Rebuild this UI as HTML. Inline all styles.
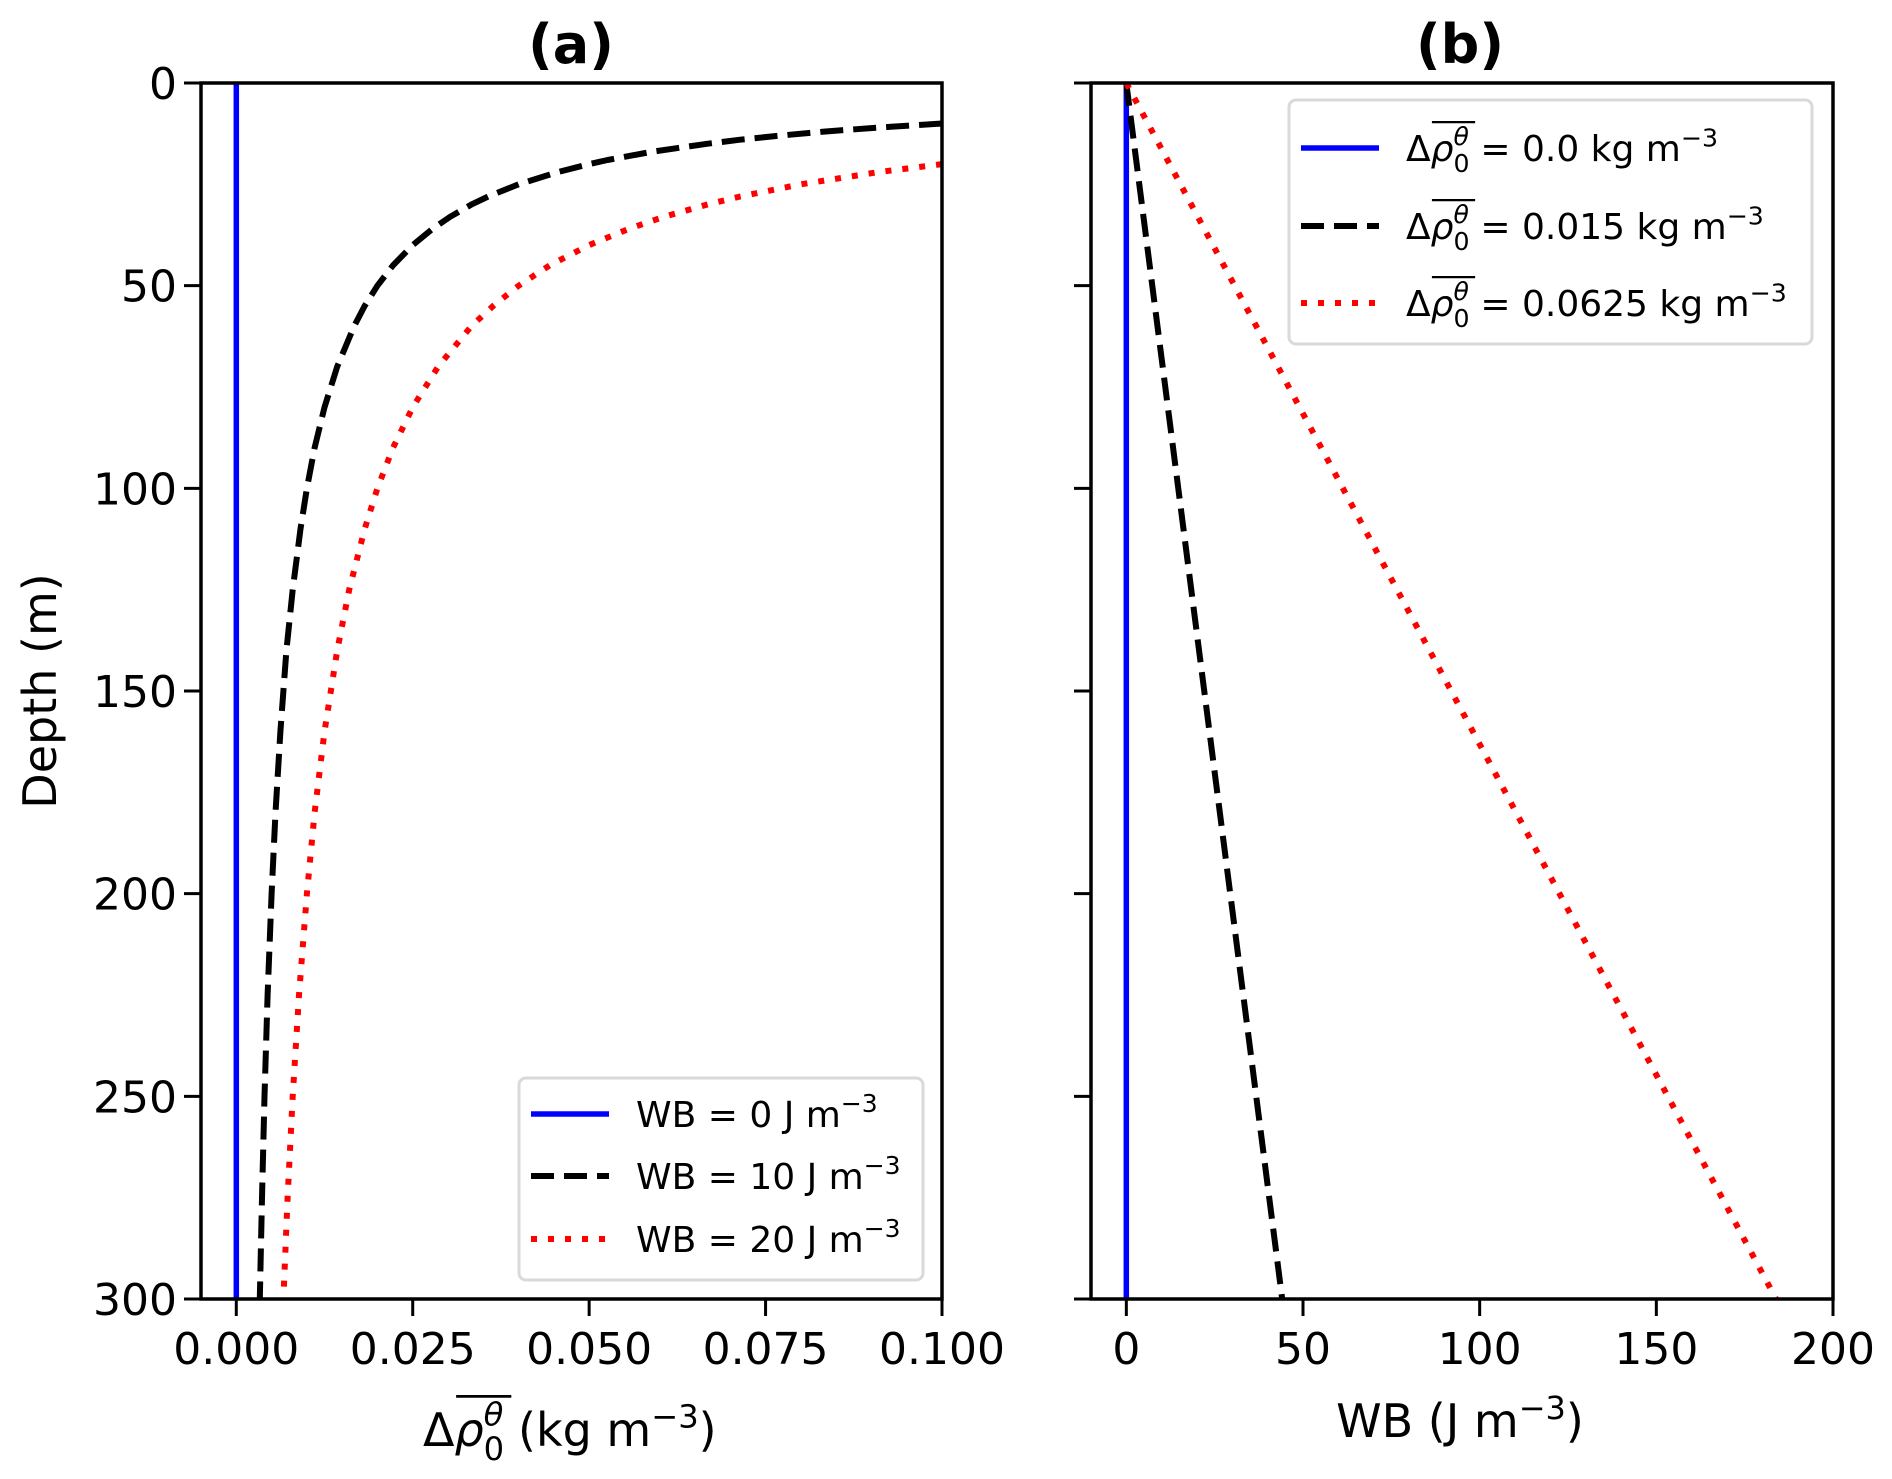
<!DOCTYPE html>
<html><head><meta charset="utf-8"><style>
html,body{margin:0;padding:0;background:#fff}
svg{display:block}
text{font-family:"DejaVu Sans","Liberation Sans",sans-serif;fill:#000}
</style></head><body>
<svg id="fig" width="1892" height="1479" viewBox="0 0 1892 1479" xmlns="http://www.w3.org/2000/svg">
<g id="axA"></g>
<g id="axB"></g>
</svg>
<script>
// ---- data ----
const depthsA = [10,11,12,13,14,15,17,19,20,22,25,28,30,33,36,40,45,50,55,60,70,80,90,100,110,125,140,160,180,200,225,250,275,300];
const rhoWB0 = [0,0];
const rhoWB10 = [0.1,0.0909,0.0833,0.0769,0.0714,0.0667,0.0588,0.0526,0.05,0.0455,0.04,0.0357,0.0333,0.0303,0.0278,0.025,0.0222,0.02,0.0182,0.0167,0.0143,0.0125,0.0111,0.01,0.0091,0.008,0.0071,0.00625,0.00556,0.005,0.00444,0.004,0.00364,0.00333];
const depthsA20 = [20,22,25,28,30,33,36,40,45,50,55,60,70,80,90,100,110,125,140,160,180,200,225,250,275,300];
const rhoWB20 = [0.1,0.0909,0.08,0.0714,0.0667,0.0606,0.0556,0.05,0.0444,0.04,0.0364,0.0333,0.0286,0.025,0.0222,0.02,0.0182,0.016,0.0143,0.0125,0.0111,0.01,0.00889,0.008,0.00727,0.00667];
const depthsB = [0,300];
const wbRho0 = [0,0];
const wbRho015 = [0,44.1];
const wbRho0625 = [0,183.9];
const xTicksA = [0,0.025,0.05,0.075,0.1];
const xTickLabelsA = ["0.000","0.025","0.050","0.075","0.100"];
const xTicksB = [0,50,100,150,200];
const xTickLabelsB = ["0","50","100","150","200"];
const yTicks = [0,50,100,150,200,250,300];
const yTickLabels = ["0","50","100","150","200","250","300"];

const NS="http://www.w3.org/2000/svg";
function mk(tag,attrs,parent){const e=document.createElementNS(NS,tag);for(const k in attrs)e.setAttribute(k,attrs[k]);if(parent)parent.appendChild(e);return e;}
const yTop=83,yBot=1299;
const yS=d=>yTop+(d/300)*(yBot-yTop);
const xA=v=>201+(v+0.005)/0.105*(942-201);
const xB=v=>1091+(v+10)/210*(1833-1091);

function line(g,xs,ys,xf,style,name){
  const p=xs.map((v,i)=>xf(v).toFixed(1)+","+yS(ys[i]).toFixed(1)).join(" ");
  const el=mk("polyline",{points:p,fill:"none","stroke-linejoin":"round"},g);
  for(const k in style)el.setAttribute(k,style[k]);
  
  
}
const blue={stroke:"#0000ff","stroke-width":5.5};
const dash={stroke:"#000","stroke-width":6,"stroke-dasharray":"23 10"};
const dot={stroke:"#ff0000","stroke-width":6,"stroke-dasharray":"6 11"};

function frame(g,x0,x1,xf,ticks,labels,showY){
  for(let i=0;i<ticks.length;i++){
    const x=xf(ticks[i]);
    const t=mk("line",{x1:x,x2:x,y1:yBot,y2:yBot+17,stroke:"#000","stroke-width":3},g);
    
    
    const l=mk("text",{x:x,y:yBot+65,"font-size":44,"text-anchor":"middle"},g);
    l.textContent=labels[i];
    
    
  }
  for(let i=0;i<yTicks.length;i++){
    const y=yS(yTicks[i]);
    const t=mk("line",{x1:x0-17,x2:x0,y1:y,y2:y,stroke:"#000","stroke-width":3},g);
    
    
    if(showY){
      const l=mk("text",{x:x0-24,y:y+16,"font-size":44,"text-anchor":"end"},g);
      l.textContent=yTickLabels[i];
      
      
    }
  }
  const r=mk("rect",{x:x0,y:yTop,width:x1-x0,height:yBot-yTop,fill:"none",stroke:"#000","stroke-width":3.5},g);
  
  
}

function mathLabel(g,x,y,fs,rest,name){
  const t=mk("text",{x:x,y:y,"font-size":fs},g);
  
  
  const a=mk("tspan",{},t);a.textContent="Δ";
  const b=mk("tspan",{"font-style":"italic"},t);b.textContent="ρ";
  const c=mk("tspan",{"font-size":fs*0.7,dy:fs*0.3},t);c.textContent="0";
  const d=mk("tspan",{"font-size":fs*0.7,"font-style":"italic",dx:-fs*0.445,dy:-fs*0.75},t);d.textContent="θ";
  const e=mk("tspan",{dy:fs*0.45},t);e.textContent=rest.main;
  const f=mk("tspan",{"font-size":fs*0.7,dy:-fs*0.4},t);f.textContent="−3";
  if(rest.tail){const h=mk("tspan",{dy:fs*0.4},t);h.textContent=rest.tail;}
  const ol=mk("line",{x1:x+fs*0.72,x2:x+fs*1.92,y1:y-fs*1.08,y2:y-fs*1.08,stroke:"#000","stroke-width":fs*0.06},g);
  
  
}

// ---- panel A ----
const gA=document.getElementById("axA");
line(gA,rhoWB0,[0,300],xA,blue,"line-wb-0");
line(gA,rhoWB10,depthsA,xA,dash,"line-wb-10");
line(gA,rhoWB20,depthsA20,xA,dot,"line-wb-20");
frame(gA,201,942,xA,xTicksA,xTickLabelsA,true);
let t=mk("text",{x:571,y:63,"font-size":54,"font-weight":"bold","text-anchor":"middle"},gA);t.textContent="(a)";

t=mk("text",{x:0,y:0,"font-size":46,"text-anchor":"middle",transform:"translate(56,691) rotate(-90)"},gA);t.textContent="Depth (m)";

mathLabel(gA,423,1446,46,{main:" (kg m",tail:")"},"x-axis-title-a");
let lg=mk("g",{},gA);
mk("rect",{x:519,y:1078,width:404,height:202,rx:7,fill:"#fff",stroke:"#d9d9d9","stroke-width":3},lg);
const legA=[["WB = 0 J m",blue,1114],["WB = 10 J m",dash,1176],["WB = 20 J m",dot,1239]];
legA.forEach(([s,st,y])=>{
  const e=mk("g",{},lg);
  
  const l=mk("line",{x1:531,x2:609,y1:y,y2:y},e);for(const k in st)l.setAttribute(k,st[k]);
  const tx=mk("text",{x:636,y:y+13,"font-size":36},e);
  const a=mk("tspan",{},tx);a.textContent=s;
  const b=mk("tspan",{"font-size":25,dy:-15},tx);b.textContent="−3";
});

// ---- panel B ----
const gB=document.getElementById("axB");
line(gB,wbRho0,depthsB,xB,blue,"line-rho-0");
line(gB,wbRho015,depthsB,xB,dash,"line-rho-0.015");
line(gB,wbRho0625,depthsB,xB,dot,"line-rho-0.0625");
frame(gB,1091,1833,xB,xTicksB,xTickLabelsB,false);
t=mk("text",{x:1460,y:63,"font-size":54,"font-weight":"bold","text-anchor":"middle"},gB);t.textContent="(b)";

t=mk("text",{x:1460,y:1437,"font-size":46,"text-anchor":"middle"},gB);

{const a=mk("tspan",{},t);a.textContent="WB (J m";const b=mk("tspan",{"font-size":32,dy:-18},t);b.textContent="−3";const c=mk("tspan",{dy:18},t);c.textContent=")";}
lg=mk("g",{},gB);
mk("rect",{x:1289,y:100,width:523,height:244,rx:7,fill:"#fff",stroke:"#d9d9d9","stroke-width":3},lg);
const legB=[[" = 0.0 kg m",blue,148],[" = 0.015 kg m",dash,226],[" = 0.0625 kg m",dot,303]];
legB.forEach(([s,st,y])=>{
  const e=mk("g",{},lg);
  
  const l=mk("line",{x1:1301,x2:1379,y1:y,y2:y},e);for(const k in st)l.setAttribute(k,st[k]);
  mathLabel(e,1406,y+13,36,{main:s},"legend-label");
});
</script>
</body></html>
